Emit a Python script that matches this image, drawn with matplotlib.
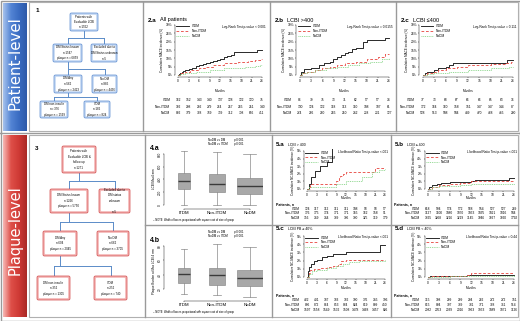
import numpy as np
import matplotlib
matplotlib.use('Agg')
import matplotlib.pyplot as plt
import matplotlib.transforms as mtransforms
from matplotlib.patches import FancyBboxPatch, Rectangle
from matplotlib.colors import LinearSegmentedColormap

plt.rcParams['font.family'] = ['Liberation Sans', 'DejaVu Sans']

W, H = 520, 321

# ======================== Data ========================
MONTHS = [0, 3, 6, 9, 12, 15, 18, 21, 24]
GROUPS = ['ITDM', 'Non-ITDM', 'NoDM']

# Kaplan-Meier step curves: (months, cumulative incidence %)
km_2a_itdm = ([0, 0.3, 0.6, 1, 1.5, 2, 3, 4, 5, 6, 7, 8, 9, 10, 11, 12, 13, 14, 15, 16, 22.5, 24],
              [0, 0.6, 1.2, 1.9, 2.5, 3.1, 3.7, 4.3, 5.5, 6.2, 6.8, 7.4, 8.0, 8.6, 9.3, 9.9, 11.1, 11.7, 12.3, 13.6, 14.8, 14.8])
km_2a_nonitdm = ([0, 0.5, 2, 3.5, 6, 8, 10, 13, 17, 20, 22, 23.5, 24],
                 [0, 1, 2, 3, 4, 5, 6, 7, 8, 8.5, 9, 9.5, 9.5])
km_2a_nodm = ([0, 0.5, 2, 5, 9, 13, 16, 19, 22, 23.5, 24],
              [0, 0.5, 1, 2, 3, 4, 4.5, 5, 5.5, 6, 6])

km_2b_itdm = ([0, 0.3, 1, 3, 5, 6.5, 8, 9, 10, 11, 12, 13, 14, 15, 17, 18, 23, 24],
              [0, 2, 3.5, 4.5, 6, 7, 8, 9.5, 11, 12, 13, 14, 15.5, 16.5, 20, 21, 22, 22])
km_2b_nonitdm = ([0, 0.5, 2, 4, 6, 8, 10, 12, 15, 18, 21, 23, 24],
                 [0, 1, 2, 3, 4, 5, 6, 7, 8, 9.5, 11, 12.5, 12.5])
km_2b_nodm = ([0, 0.5, 2, 4, 7, 10, 13, 16, 19, 22, 24],
              [0, 1, 2, 3, 4, 5, 6, 7, 8, 9.5, 10])

km_2c_itdm = ([0, 0.5, 1, 3, 4, 6, 7, 8, 9, 22.5, 24],
              [0, 1, 2, 3, 4, 5, 6, 7, 7.5, 9, 9])
km_2c_nonitdm = ([0, 1, 3, 4, 6, 9, 12, 18, 22, 23.5, 24],
                 [0, 1, 2, 3, 4, 5, 6, 6.5, 7, 8, 8])
km_2c_nodm = ([0, 1, 3, 7, 12, 18, 23, 24],
              [0, 0.5, 1, 2, 3, 4, 5, 5])

km_5a_itdm = ([0, 0.5, 1.2, 2.5, 4, 6, 7.7, 24],
              [0, 0.7, 1.6, 2.4, 3.0, 3.6, 5.6, 5.6])
km_5a_nonitdm = ([0, 1, 9, 9.7, 10.3, 11, 12, 21, 24],
                 [0, 0.6, 1.0, 1.4, 1.7, 2.0, 2.2, 2.8, 2.8])
km_5a_nodm = ([0, 0.5, 9, 12, 17, 20, 22, 24],
              [0, 0.3, 0.6, 1.1, 1.6, 2.2, 2.5, 2.6])

km_5b_itdm = ([0, 0.4, 1, 2.5, 3.5, 6, 12, 13, 22.6, 24],
              [0, 0.3, 0.5, 0.7, 0.8, 0.9, 1.1, 1.2, 1.5, 1.5])
km_5b_nonitdm = ([0, 1, 3, 6, 9, 12, 22, 24],
                 [0, 0.3, 0.5, 0.7, 0.85, 1.0, 1.1, 1.1])
km_5b_nodm = ([0, 1, 3, 6, 9, 12, 18, 24],
              [0, 0.2, 0.35, 0.45, 0.55, 0.65, 0.7, 0.75])

km_5c_itdm = ([0, 0.3, 0.7, 1.2, 2, 3, 4.5, 6, 8, 12, 22.5, 24],
              [0, 0.7, 1.2, 1.6, 1.9, 2.1, 2.4, 2.6, 2.8, 3.0, 3.9, 3.9])
km_5c_nonitdm = ([0, 0.5, 1, 2, 4, 6, 8, 9.5, 10.5, 12, 24],
                 [0, 0.5, 0.8, 1.0, 1.1, 1.2, 1.4, 1.6, 1.9, 2.1, 2.1])
km_5c_nodm = ([0, 0.5, 1.5, 3, 6, 9, 11, 13, 16, 24],
              [0, 0.4, 0.7, 0.9, 1.1, 1.3, 1.6, 1.8, 2.0, 2.1])

km_5d_itdm = ([0, 0.5, 11, 24], [0, 0.1, 0.2, 0.2])
km_5d_nonitdm = ([0, 1, 11, 12, 24], [0, 0.1, 0.3, 0.45, 0.45])
km_5d_nodm = ([0, 1, 6, 12, 24], [0, 0.05, 0.1, 0.15, 0.2])

# numbers at risk (rows: ITDM, Non-ITDM, NoDM)
risk_2a = [[162, 152, 143, 140, 137, 128, 122, 120, 75],
           [302, 298, 292, 279, 264, 257, 255, 251, 140],
           [802, 779, 768, 759, 739, 712, 708, 696, 411]]
risk_2b = [[86, 79, 75, 73, 71, 62, 57, 57, 34],
           [130, 124, 122, 118, 113, 110, 108, 107, 61],
           [274, 266, 260, 255, 250, 242, 238, 231, 127]]
risk_2c = [[77, 73, 68, 67, 66, 66, 65, 63, 36],
           [172, 164, 160, 158, 151, 147, 147, 144, 87],
           [528, 513, 508, 504, 489, 470, 468, 465, 280]]
risk_5a = [[124, 117, 112, 111, 111, 108, 98, 98, 57],
           [176, 175, 174, 171, 171, 165, 162, 158, 91],
           [356, 349, 344, 339, 336, 330, 325, 319, 179]]
risk_5b = [[618, 594, 574, 572, 568, 554, 527, 527, 289],
           [1127, 1100, 1080, 1070, 1053, 1035, 1021, 1016, 584],
           [3325, 3268, 3216, 3219, 3145, 3046, 3027, 3020, 1792]]
risk_5c = [[422, 401, 387, 383, 382, 380, 376, 345, 196],
           [886, 872, 864, 853, 834, 824, 819, 809, 450],
           [1597, 1558, 1549, 1532, 1508, 1478, 1468, 1457, 826]]
risk_5d = [[315, 308, 299, 299, 294, 282, 272, 272, 151],
           [815, 804, 797, 789, 781, 771, 768, 761, 514],
           [2082, 2053, 2039, 2016, 1963, 1953, 1889, 1871, 1126]]

# box plots (plaque-level)
plaque_n = [740, 1305, 3705]
box4a_lo = [0, 0, 0]
box4a_q1 = [251, 197, 171]
box4a_med = [373, 331, 304]
box4a_q3 = [507, 480, 427]
box4a_hi = [853, 827, 800]
box4b_lo = [13.5, 12, 9]
box4b_q1 = [28, 26, 24]
box4b_med = [41.5, 39, 35]
box4b_q3 = [50, 50, 46]
box4b_hi = [76, 83, 78]

# ======================== Helpers ========================
fig = plt.figure(figsize=(W / 100, H / 100), dpi=100)
fig.patch.set_facecolor('white')

bg = fig.add_axes([0, 0, 1, 1])
bg.set_axis_off()


def rect(x0, y0, x1, y1):
    return [x0 / W, 1 - y1 / H, (x1 - x0) / W, (y1 - y0) / H]


def fbox(x0, y0, x1, y1, text, edge, shade):
    bg.add_patch(FancyBboxPatch((x0, y0), x1 - x0, y1 - y0,
                                boxstyle='round,pad=0,rounding_size=1.5',
                                fc=shade, ec=edge, lw=0.5, zorder=3))
    bg.add_patch(FancyBboxPatch((x0 + 1.8, y0 + 1.8), x1 - x0 - 3.6, y1 - y0 - 3.6,
                                boxstyle='round,pad=0,rounding_size=1',
                                fc='white', ec='none', zorder=4))
    bg.text((x0 + x1) / 2, (y0 + y1) / 2, text, ha='center', va='center',
            fontsize=2.1, linespacing=1.5, zorder=5)


def connector(px, py, y_mid, xs, cy):
    kw = dict(color='#5b8cc8', lw=0.7, zorder=2)
    bg.plot([px, px], [py, y_mid], **kw)
    bg.plot([min(xs), max(xs)], [y_mid, y_mid], **kw)
    for x in xs:
        bg.plot([x, x], [y_mid, cy], **kw)


STYLE = {'ITDM': dict(color='#1a1a1a', ls='-'),
         'Non-ITDM': dict(color='#e8504a', ls=(0, (3, 2))),
         'NoDM': dict(color='#86d486', ls=(0, (1, 1)))}


def km_panel(t0, t24, y0, ytop, ymax, curves, risk, pval, ylabel,
             months_y, rows_y, patients_y=None):
    ex, ey = 24 * 0.04, ymax * 0.04
    sx, sy = (t24 - t0) / 24, (y0 - ytop) / ymax
    ax = fig.add_axes(rect(t0 - ex * sx, ytop - ey * sy, t24 + ex * sx, y0 + ey * sy))
    ax.set_xlim(-ex, 24 + ex)
    ax.set_ylim(-ey, ymax + ey)
    ax.patch.set_alpha(0)
    for g, (t, v) in zip(GROUPS, curves):
        ax.step(t, v, where='post', lw=0.65, label=g, **STYLE[g])
    for s in ['top', 'right']:
        ax.spines[s].set_visible(False)
    ax.spines['left'].set_bounds(0, ymax)
    ax.spines['bottom'].set_bounds(0, 24)
    for s in ['left', 'bottom']:
        ax.spines[s].set_linewidth(0.3)
    ax.set_xticks(MONTHS)
    step = 5 if ymax > 10 else 1
    yt = np.arange(0, ymax + 0.01, step)
    ax.set_yticks(yt)
    ax.set_yticklabels([f'{int(v)}%' for v in yt])
    ax.tick_params(length=1, width=0.3, labelsize=2.3, pad=0.8)
    ax.set_ylabel(ylabel, fontsize=2.2, labelpad=1)
    ax.legend(loc='upper left', fontsize=2.3, frameon=False, handlelength=4,
              labelspacing=0.25, borderaxespad=0.2, borderpad=0.2)
    ax.text(1.0, 0.93, pval, transform=ax.transAxes, ha='right', va='center', fontsize=2.3)
    tr = mtransforms.blended_transform_factory(ax.transData, fig.transFigure)
    ax.text(12, 1 - months_y / H, 'Months', transform=tr, ha='center', va='center', fontsize=2.3)
    if patients_y is not None:
        ax.text(-9.5, 1 - patients_y / H, 'Patients, n', transform=tr, ha='left',
                va='center', fontsize=2.5, fontweight='bold')
    for g, vals, ry in zip(GROUPS, risk, rows_y):
        ax.text(-2.2, 1 - ry / H, g, transform=tr, ha='right', va='center', fontsize=2.3)
        for m, n in zip(MONTHS, vals):
            ax.text(m, 1 - ry / H, str(n), transform=tr, ha='center', va='center', fontsize=2.3)
    return ax


def box_panel(y_top, y_bot, ylim, yticks, lo, q1, med, q3, hi, ylabel):
    ax = fig.add_axes(rect(164, y_top, 263, y_bot))
    ax.patch.set_alpha(0)
    widths = [0.8 * np.sqrt(n / max(plaque_n)) for n in plaque_n]
    stats = [dict(whislo=a, q1=b, med=c, q3=d, whishi=e)
             for a, b, c, d, e in zip(lo, q1, med, q3, hi)]
    ax.bxp(stats, positions=[1, 2, 3], widths=widths, capwidths=[w / 2 for w in widths],
           showfliers=False, patch_artist=True,
           boxprops=dict(facecolor='#a8a8a8', edgecolor='#7c7c7c', lw=0.4),
           medianprops=dict(color='#3a3a3a', lw=1.0),
           whiskerprops=dict(color='#8a8a8a', lw=0.5),
           capprops=dict(color='#8a8a8a', lw=0.5))
    ax.set_xlim(0.4, 3.4)
    ax.set_ylim(*ylim)
    for s in ['top', 'right']:
        ax.spines[s].set_visible(False)
    ax.spines['left'].set_bounds(yticks[0], yticks[-1])
    ax.spines['bottom'].set_bounds(1, 3)
    for s in ['left', 'bottom']:
        ax.spines[s].set_linewidth(0.3)
    ax.set_xticks([1, 2, 3])
    ax.set_xticklabels(GROUPS, fontsize=3.2)
    ax.set_yticks(yticks)
    ax.set_yticklabels([str(v) for v in yticks], fontsize=2.3, rotation=90, va='center')
    ax.tick_params(length=1, width=0.3, pad=0.8)
    ax.set_ylabel(ylabel, fontsize=2.2, labelpad=1)
    return ax


# ======================== Frames & bands ========================
grad = np.linspace(0, 1, 64).reshape(1, -1)
blue = LinearSegmentedColormap.from_list('blue', ['#a6c2ec', '#5384d4', '#3a6cc2', '#2f5ba8'])
red = LinearSegmentedColormap.from_list('red', ['#f6b8b4', '#de4f48', '#cf3a35', '#a92a26'])
bg.imshow(grad, extent=(3, 27, 131, 3), cmap=blue, aspect='auto', zorder=1)
bg.imshow(grad, extent=(3, 27, 317, 135), cmap=red, aspect='auto', zorder=1)
bg.set_xlim(0, W)
bg.set_ylim(H, 0)

bg.text(15.5, 63, 'Patient-level', rotation=90, color='white', fontsize=10.8,
        family='DejaVu Sans', ha='center', va='center', zorder=2)
bg.text(15.5, 230, 'Plaque-level', rotation=90, color='white', fontsize=10.5,
        family='DejaVu Sans', ha='center', va='center', zorder=2)

line_kw = dict(color='#9a9a9a', lw=1.0, zorder=1)
bg.add_patch(Rectangle((0.5, 0.5), W - 1, H - 1, fill=False, ec='#9a9a9a', lw=1.0))
bg.add_patch(Rectangle((29, 2), 489, 129, fill=False, ec='#b0b0b0', lw=0.8))
bg.add_patch(Rectangle((29, 135), 489, 182, fill=False, ec='#b0b0b0', lw=0.8))
bg.plot([0, W], [133, 133], **line_kw)
bg.plot([143, 143], [2, 131], **line_kw)
bg.plot([270, 270], [2, 131], **line_kw)
bg.plot([396, 396], [2, 131], **line_kw)
bg.plot([145, 145], [135, 317], **line_kw)
bg.plot([272, 272], [135, 317], **line_kw)
bg.plot([391, 391], [135, 317], **line_kw)
bg.plot([145, 518], [225, 225], **line_kw)

# ======================== Flowcharts ========================
bg.text(37, 10, '1', fontsize=4.5, fontweight='bold', ha='center', va='center')
bg.text(37, 148, '3', fontsize=4.5, fontweight='bold', ha='center', va='center')

BE, BS = '#5b8bd0', '#c3d7f2'
RE, RS = '#d24a4a', '#f3b3b3'

connector(84, 31, 38, [67.5, 104], 44)
connector(67.5, 62, 69, [68, 104.5], 75)
connector(68, 93, 97, [54, 97], 101)
fbox(70, 13, 98, 31, 'Patients with\nEvaluable LCBI\nn=1552', BE, BS)
fbox(53, 44, 82, 62, 'DM Status known\nn=1547\nplaque n = 6859', BE, BS)
fbox(91, 44, 117, 62, 'Excluded due to\nDM Status unknown\nn=5', BE, BS)
fbox(54, 75, 82, 93, 'DM Any\nn=562\nplaque n = 2423', BE, BS)
fbox(92, 75, 117, 93, 'No DM\nn=985\nplaque n = 4436', BE, BS)
fbox(40, 101, 68, 118, 'DM non-insulin\nn= 376\nplaque n = 1599', BE, BS)
fbox(84, 101, 110, 118, 'ITDM\nn=186\nplaque n = 824', BE, BS)

connector(79, 173, 181, [69, 114.5], 189)
connector(69, 213, 222, [60, 113], 231)
connector(60, 256, 266, [53.5, 110.5], 276)
fbox(62, 146, 96, 173, 'Patients with\nEvaluable LCBI &\nfollow up\nn=1271', RE, RS)
fbox(50, 189, 88, 213, 'DM Status known\nn=1266\nplaque n = 5750', RE, RS)
fbox(99, 189, 130, 213, 'Excluded due to\nDM status\nunknown\n\nn=5', RE, RS)
fbox(43, 231, 77, 256, 'DM Any\nn=604\nplaque n = 2045', RE, RS)
fbox(97, 231, 129, 256, 'No DM\nn=662\nplaque n = 3705', RE, RS)
fbox(37, 276, 70, 300, 'DM non-insulin\nn=352\nplaque n = 1305', RE, RS)
fbox(94, 276, 127, 300, 'ITDM\nn=252\nplaque n = 740', RE, RS)

# ======================== Titles ========================
def title(x, y, tag, sub, sub_size=4.0):
    bg.text(x, y, tag, fontsize=4.5, fontweight='bold', ha='left', va='center')
    bg.text(x + 12, y, sub, fontsize=sub_size, ha='left', va='center')


title(148, 20, '2.a', 'All patients')
title(275, 20, '2.b', 'LCBI >400')
title(401, 20, '2.c', 'LCBI \u2264400')
title(276, 145, '5.a', 'LCBI > 400', 2.5)
title(395, 145, '5.b', 'LCBI \u2264 400', 2.5)
title(276, 229, '5.c', 'LCBI PB \u2265 40%', 2.5)
title(395, 229, '5.d', 'LCBI PB < 40%', 2.5)
bg.text(150, 148, '4.a', fontsize=5, fontweight='bold', ha='left', va='center')
bg.text(150, 240, '4.b', fontsize=5, fontweight='bold', ha='left', va='center')
for y in (140, 232):
    bg.text(208, y, 'NoDM vs DM', fontsize=2.1, va='center')
    bg.text(234, y, 'p<0.001', fontsize=2.1, va='center')
    bg.text(208, y + 4, 'NoDM vs ITDM', fontsize=2.1, va='center')
    bg.text(234, y + 4, 'p<0.001', fontsize=2.1, va='center')
for y in (220, 312):
    bg.text(153, y, '\u2013 NOTE: Width of boxes proportional with square root of size of group',
            fontsize=1.9, va='center')

# ======================== KM panels ========================
top_label = 'Cumulative MACE incidence (%)'
bot_label = 'Cumulative NC-MACE incidence (%)'
top_rows = [100, 106.5, 113]

km_panel(178, 262, 75, 25, 30, (km_2a_itdm, km_2a_nonitdm, km_2a_nodm), risk_2a,
         'Log-Rank Test p-value < 0.001', top_label, 91, top_rows)
km_panel(300, 389, 75, 25, 30, (km_2b_itdm, km_2b_nonitdm, km_2b_nodm), risk_2b,
         'Log-Rank Test p-value = 0.0155', top_label, 91, top_rows)
km_panel(423, 513, 75, 25, 30, (km_2c_itdm, km_2c_nonitdm, km_2c_nodm), risk_2c,
         'Log-Rank Test p-value = 0.111', top_label, 91, top_rows)

km_panel(307, 385, 189, 151, 5, (km_5a_itdm, km_5a_nonitdm, km_5a_nodm), risk_5a,
         'Likelihood Ratio Test p-value <.001', bot_label, 198, [209, 213.5, 218], 204)
km_panel(428, 514, 189, 151, 5, (km_5b_itdm, km_5b_nonitdm, km_5b_nodm), risk_5b,
         'Likelihood Ratio Test p-value <.001', bot_label, 198, [209, 213.5, 218], 204)
km_panel(307, 385, 277, 236, 5, (km_5c_itdm, km_5c_nonitdm, km_5c_nodm), risk_5c,
         'Likelihood Ratio Test p-value <.001', bot_label, 288, [300, 305, 310], 295)
km_panel(428, 514, 277, 236, 5, (km_5d_itdm, km_5d_nonitdm, km_5d_nodm), risk_5d,
         'Likelihood Ratio Test p-value = 0.44', bot_label, 288, [300, 305, 310], 295)

# ======================== Box plots ========================
box_panel(149, 209, (-63, 878), [0, 200, 400, 600, 800],
          box4a_lo, box4a_q1, box4a_med, box4a_q3, box4a_hi, 'LCBI Max4 mm')
box_panel(241, 301, (3.3, 87), [20, 40, 60, 80],
          box4b_lo, box4b_q1, box4b_med, box4b_q3, box4b_hi, 'Plaque Burden at Max LCBI 4 mm')

fig.savefig('out.png', dpi=100)
